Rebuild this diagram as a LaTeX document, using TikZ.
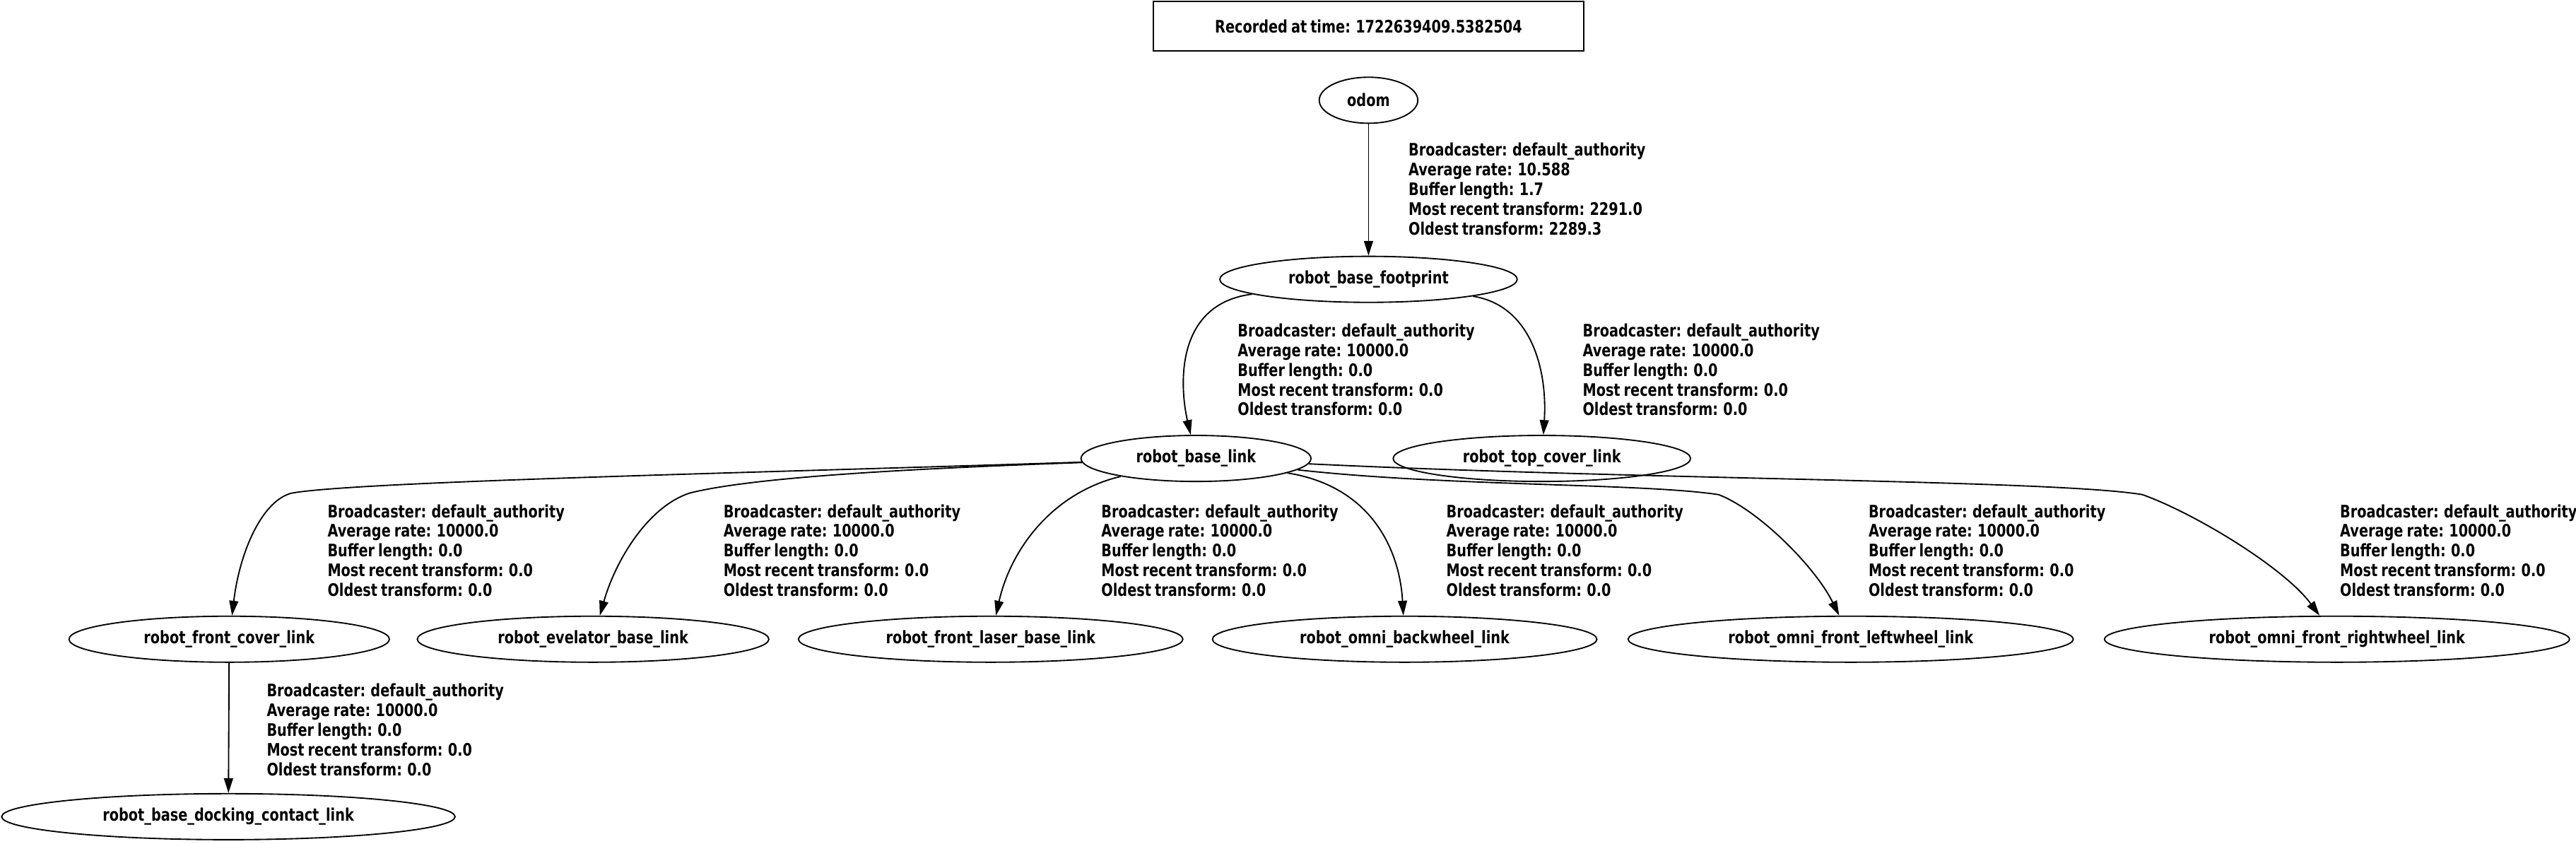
\documentclass[tikz,border=0pt]{standalone}
\usepackage{fontspec}
\setmainfont{DejaVu Sans}[UprightFont=* Bold,FakeStretch=0.79,WordSpace=0.75]
\usepackage{tikz}
\usetikzlibrary{shapes.geometric,arrows.meta}
\newcommand{\tfinfo}[4]{Broadcaster: default\_authority\\Average rate: #1\\Buffer length: #2\\Most recent transform: #3\\Oldest transform: #4}

\begin{document}
\begin{tikzpicture}[x=1pt, y=-1pt, line width=0.8pt,
		every node/.style={font=\fontsize{10.5}{12}\selectfont},
		frame/.style={draw,ellipse,inner sep=0pt,minimum height=28pt},
		info/.style={anchor=west,align=left,inner sep=0pt},
		tf/.style={-{Triangle[length=9pt,width=5.5pt]}}]
			 \useasboundingbox (0,0) rectangle (1568,513.6);
			 \node[draw,rectangle,minimum width=262pt,minimum height=30pt] (rec)at(833,16) {Recorded at time: 1722639409.5382504};
			 \node[frame,minimum width=60pt] (odom)at(833,61) {odom};
			 \node[frame,minimum width=181pt] (fp)at(833,170) {robot\_base\_footprint};
			 \node[frame,minimum width=140pt] (bl)at(728,279) {robot\_base\_link};
			 \node[frame,minimum width=181pt] (tc)at(938.5,279) {robot\_top\_cover\_link};
			 \node[frame,minimum width=195pt] (fc)at(139.5,389) {robot\_front\_cover\_link};
			 \node[frame,minimum width=214pt] (ev)at(361,389) {robot\_evelator\_base\_link};
			 \node[frame,minimum width=234pt] (fl)at(603,389) {robot\_front\_laser\_base\_link};
			 \node[frame,minimum width=234pt] (bw)at(855,389) {robot\_omni\_backwheel\_link};
			 \node[frame,minimum width=271pt] (lw)at(1126.5,389) {robot\_omni\_front\_leftwheel\_link};
			 \node[frame,minimum width=283pt] (rw)at(1422.5,389) {robot\_omni\_front\_rightwheel\_link};
			 \node[frame,minimum width=276pt] (dc)at(139,497) {robot\_base\_docking\_contact\_link};
			 % edge labels
			 \node[info] (i1)at(857,115) {\tfinfo{10.588}{1.7}{2291.0}{2289.3}};
			 \node[info] (i2)at(753,225) {\tfinfo{10000.0}{0.0}{0.0}{0.0}};
			 \node[info] (i3)at(963,225) {\tfinfo{10000.0}{0.0}{0.0}{0.0}};
			 \node[info] (i4)at(199,335) {\tfinfo{10000.0}{0.0}{0.0}{0.0}};
			 \node[info] (i5)at(440,335) {\tfinfo{10000.0}{0.0}{0.0}{0.0}};
			 \node[info] (i6)at(670,335) {\tfinfo{10000.0}{0.0}{0.0}{0.0}};
			 \node[info] (i7)at(880,335) {\tfinfo{10000.0}{0.0}{0.0}{0.0}};
			 \node[info] (i8)at(1137,335) {\tfinfo{10000.0}{0.0}{0.0}{0.0}};
			 \node[info] (i9)at(1424,335) {\tfinfo{10000.0}{0.0}{0.0}{0.0}};
			 \node[info] (i10)at(162,444) {\tfinfo{10000.0}{0.0}{0.0}{0.0}};
			 % transforms
			 \draw[tf] (odom) -- (fp);
			 \draw[tf] (fp) .. controls (715,185) and (718,235) .. (bl);
			 \draw[tf] (fp) .. controls (932,186) and (942,225) .. (tc);
			 \draw[tf] (bl) .. controls (450,288) and (220,293) .. (178,300)
			 	.. controls (160,304) and (146,335) .. (fc);
			 \draw[tf] (bl) .. controls (560,285) and (460,290) .. (420,300)
			 	.. controls (395,308) and (375,340) .. (ev);
			 \draw[tf] (bl) .. controls (640,300) and (615,335) .. (fl);
			 \draw[tf] (bl) .. controls (835,296) and (852,335) .. (bw);
			 \draw[tf] (bl) .. controls (880,296) and (1000,294) .. (1046,301)
			 	.. controls (1070,310) and (1105,345) .. (lw);
			 \draw[tf] (bl) .. controls (1000,292) and (1250,292) .. (1304,301)
			 	.. controls (1335,312) and (1390,345) .. (rw);
			 \draw[tf] (fc) -- (dc);
		\end{tikzpicture}
\end{document}
